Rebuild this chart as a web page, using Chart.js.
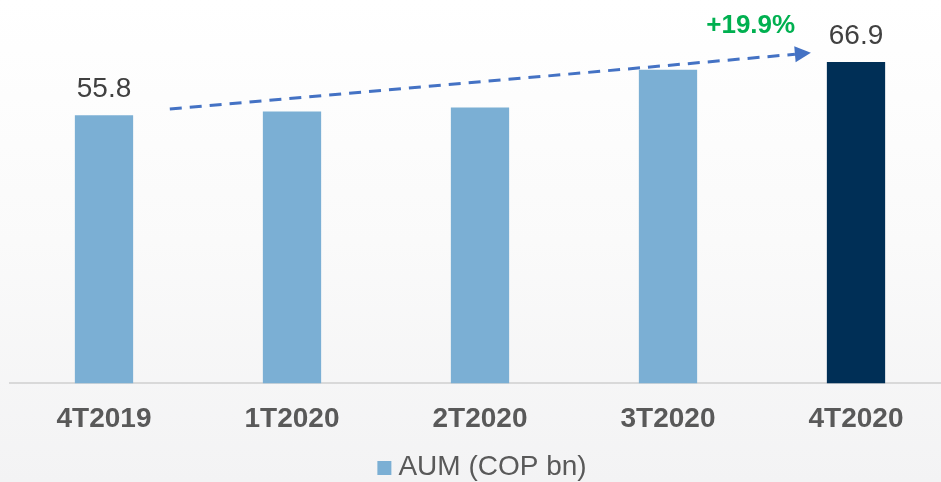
<!DOCTYPE html>
<html>
<head>
<meta charset="utf-8">
<script src="https://cdn.jsdelivr.net/npm/chart.js@4.4.0/dist/chart.umd.min.js"></script>
<style>
  html, body { margin: 0; padding: 0; }
  body {
    width: 941px; height: 482px; overflow: hidden;
    background: linear-gradient(to bottom, #ffffff 0%, #fafafa 50%, #f3f3f4 100%);
  }
  #wrap { position: relative; width: 950px; height: 482px; }
</style>
</head>
<body>
<div id="wrap"><canvas id="aumChart"></canvas></div>
<script>
const categories = ['4T2019', '1T2020', '2T2020', '3T2020', '4T2020'];
const aumValues = [55.8, 56.6, 57.4, 65.3, 66.9];
const shownLabels = ['55.8', '', '', '', '66.9'];
const seriesName = 'AUM (COP bn)';
const growthText = '+19.9%';
// arrow ends in (category index, value) units
const arrowFrom = [0.35, 57.1];
const arrowTo = [3.76, 68.8];
const growthAt = [3.44, 72.9];

const lightBlue = '#7bafd4';
const navy = '#002f56';
const fontFamily = '"Liberation Sans", Arial, sans-serif';

function xAt(scale, idx) {
    const a = scale.getPixelForValue(Math.floor(idx));
    const b = scale.getPixelForValue(Math.floor(idx) + 1);
    return a + (idx - Math.floor(idx)) * (b - a);
}

const annotations = {
    id: 'annotations',
    afterDatasetsDraw(chart) {
        const ctx = chart.ctx;
        const x = chart.scales.x;
        const y = chart.scales.y;
        const meta = chart.getDatasetMeta(0);

        // value labels
        ctx.save();
        ctx.font = '28px ' + fontFamily;
        ctx.fillStyle = '#404040';
        ctx.textAlign = 'center';
        ctx.textBaseline = 'alphabetic';
        meta.data.forEach((bar, i) => {
            if (shownLabels[i]) ctx.fillText(shownLabels[i], bar.x, bar.y - 18);
        });
        ctx.restore();

        // dashed growth arrow
        const x1 = xAt(x, arrowFrom[0]), y1 = y.getPixelForValue(arrowFrom[1]);
        const x2 = xAt(x, arrowTo[0]), y2 = y.getPixelForValue(arrowTo[1]);
        const ang = Math.atan2(y2 - y1, x2 - x1);
        const headLen = 16, headW = 8;
        ctx.save();
        ctx.strokeStyle = '#4472c4';
        ctx.fillStyle = '#4472c4';
        ctx.lineWidth = 3;
        ctx.setLineDash([12, 8]);
        ctx.beginPath();
        ctx.moveTo(x1, y1);
        ctx.lineTo(x2 - headLen * Math.cos(ang), y2 - headLen * Math.sin(ang));
        ctx.stroke();
        ctx.setLineDash([]);
        ctx.beginPath();
        ctx.moveTo(x2, y2);
        ctx.lineTo(x2 - headLen * Math.cos(ang) + headW * Math.sin(ang), y2 - headLen * Math.sin(ang) - headW * Math.cos(ang));
        ctx.lineTo(x2 - headLen * Math.cos(ang) - headW * Math.sin(ang), y2 - headLen * Math.sin(ang) + headW * Math.cos(ang));
        ctx.closePath();
        ctx.fill();
        ctx.restore();

        // growth text
        ctx.save();
        ctx.font = 'bold 26px ' + fontFamily;
        ctx.fillStyle = '#00b050';
        ctx.textAlign = 'center';
        ctx.textBaseline = 'alphabetic';
        ctx.fillText(growthText, xAt(x, growthAt[0]), y.getPixelForValue(growthAt[1]));
        ctx.restore();

        // legend (single series), drawn under the axis labels
        ctx.save();
        ctx.font = '28px ' + fontFamily;
        const tw = ctx.measureText(seriesName).width;
        const total = 14 + 7 + tw;
        const lx = (chart.chartArea.left + chart.chartArea.right) / 2 + 2 - total / 2;
        const ly = chart.height - 7;
        ctx.fillStyle = lightBlue;
        ctx.fillRect(lx, ly - 14, 14, 14);
        ctx.fillStyle = '#595959';
        ctx.textAlign = 'left';
        ctx.textBaseline = 'alphabetic';
        ctx.fillText(seriesName, lx + 21, ly);
        ctx.restore();
    }
};

new Chart(document.getElementById('aumChart'), {
    type: 'bar',
    data: {
        labels: categories,
        datasets: [{
            label: seriesName,
            data: aumValues,
            backgroundColor: (c) => c.dataIndex === categories.length - 1 ? navy : lightBlue,
            borderWidth: 0,
            categoryPercentage: 1,
            barPercentage: 0.31
        }]
    },
    options: {
        responsive: true,
        maintainAspectRatio: false,
        animation: false,
        layout: { padding: { left: 10, right: 0, top: 0, bottom: 27 } },
        scales: {
            x: {
                grid: { display: false, drawTicks: false },
                border: { display: true, color: '#d9d9d9', width: 2 },
                ticks: {
                    color: '#595959',
                    font: { family: fontFamily, size: 28, weight: 'bold' },
                    padding: 19
                }
            },
            y: {
                display: false,
                min: 0,
                max: 79.8
            }
        },
        plugins: {
            legend: { display: false },
            tooltip: { enabled: false }
        }
    },
    plugins: [annotations]
});
</script>
</body>
</html>
